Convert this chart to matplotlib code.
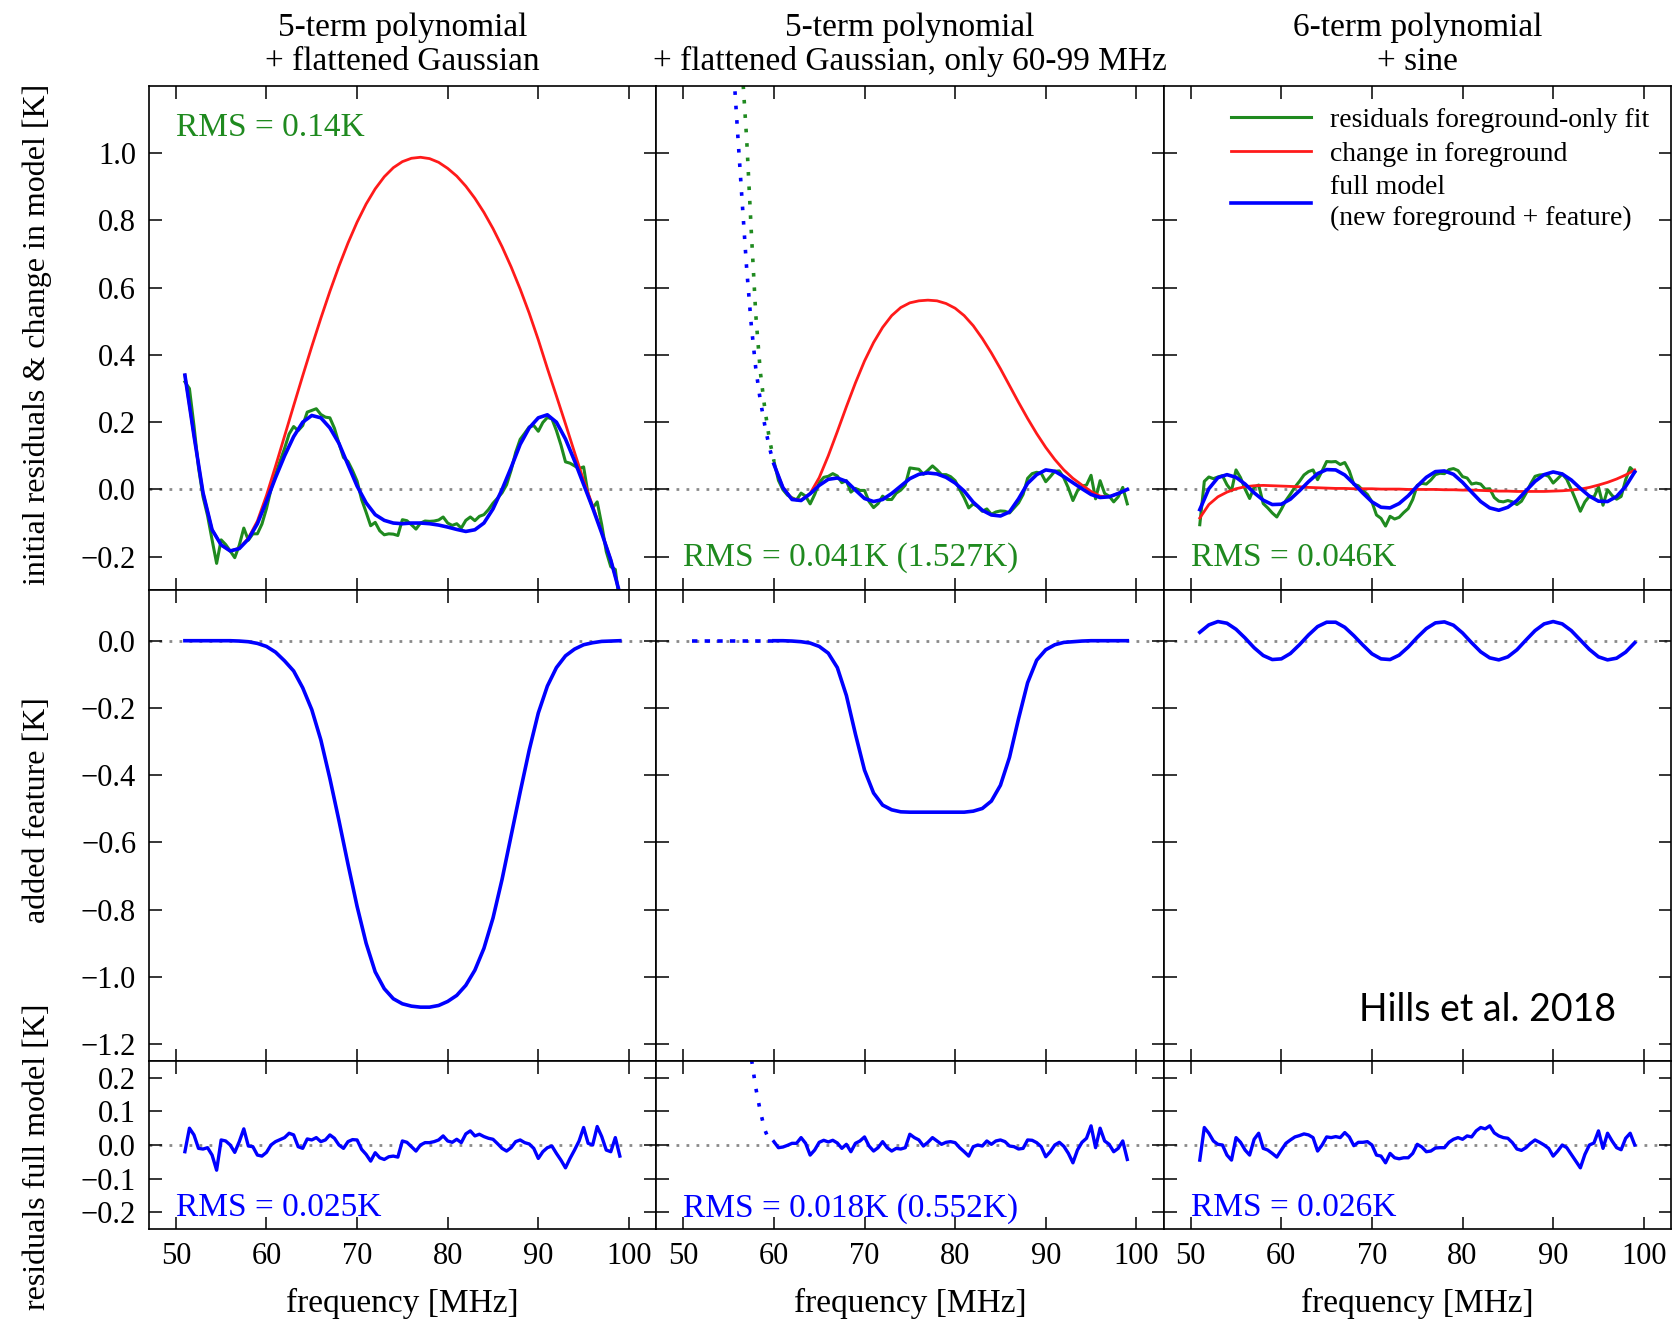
"""
Three fit scenarios: initial residuals / added feature / residuals of the full model.
"""

import numpy as np
import matplotlib

matplotlib.use("Agg")
import matplotlib.pyplot as plt

plt.rcParams["font.family"] = "serif"
plt.rcParams["font.serif"] = ["Liberation Serif", "DejaVu Serif"]

GREEN = "#1f8a1f"
RED = "#ff1a1a"
BLUE = "#0000ff"

# frequency grids [MHz]
FREQ = np.arange(51, 100, 1.0)          # smooth curves, 51..99
FREQ_FINE = np.arange(51, 99.5, 0.5)    # noisy curves, 51..99
FREQ_CUT = np.arange(60, 100, 1.0)      # 60-99 MHz fit
FREQ_CUT_FINE = np.arange(60, 99.5, 0.5)
FREQ_EXT = np.arange(55.5, 60.5, 0.5)   # extrapolation below 60 MHz
FREQ_EXT_FEAT = np.arange(51, 61, 1.0)
FREQ_EXT_RES = np.arange(57.0, 60.5, 0.5)

# ---- column 1: 5-term polynomial + flattened Gaussian ----
model_a = [0.34, 0.16, -0.01, -0.12, -0.165, -0.183, -0.176, -0.148, -0.102, -0.035,
           0.035, 0.10, 0.157, 0.20, 0.22, 0.213, 0.183, 0.137, 0.073, 0.01,
           -0.04, -0.075, -0.092, -0.10, -0.102, -0.10, -0.10, -0.102, -0.106, -0.112,
           -0.119, -0.125, -0.12, -0.10, -0.058, 0.0, 0.065, 0.134, 0.183, 0.213,
           0.222, 0.20, 0.15, 0.085, 0.015, -0.055, -0.13, -0.21, -0.31]
fg_change_a = [0.34, 0.16, -0.01, -0.12, -0.165, -0.183, -0.175, -0.145, -0.094, -0.018,
               0.069, 0.159, 0.249, 0.338, 0.425, 0.509, 0.589, 0.664, 0.733, 0.795,
               0.849, 0.894, 0.93, 0.957, 0.975, 0.985, 0.988, 0.984, 0.973, 0.955,
               0.932, 0.902, 0.866, 0.824, 0.776, 0.722, 0.662, 0.596, 0.524, 0.445,
               0.36, 0.278, 0.195, 0.11, 0.027, -0.049, -0.128, -0.209, -0.31]
feature_a = [0, 0, 0, 0, 0, 0, -0.001, -0.003, -0.008, -0.017,
             -0.034, -0.06, -0.09, -0.14, -0.205, -0.295, -0.41, -0.535, -0.665, -0.79,
             -0.90, -0.985, -1.035, -1.065, -1.08, -1.087, -1.09, -1.09, -1.085, -1.073,
             -1.055, -1.025, -0.98, -0.915, -0.825, -0.71, -0.58, -0.45, -0.325, -0.215,
             -0.135, -0.08, -0.045, -0.025, -0.012, -0.006, -0.002, -0.001, 0.0]
resid_fg_a = [0.32, 0.30, 0.19, 0.065, -0.022, -0.078, -0.15, -0.22, -0.15, -0.164,
              -0.183, -0.203, -0.166, -0.115, -0.151, -0.132, -0.132, -0.103, -0.057, 0.0,
              0.045, 0.084, 0.122, 0.165, 0.187, 0.175, 0.19, 0.23, 0.235, 0.24,
              0.223, 0.215, 0.213, 0.182, 0.137, 0.095, 0.083, 0.056, 0.025, -0.03,
              -0.068, -0.108, -0.098, -0.123, -0.135, -0.132, -0.133, -0.137, -0.09, -0.093,
              -0.105, -0.118, -0.10, -0.094, -0.095, -0.094, -0.091, -0.082, -0.10, -0.107,
              -0.102, -0.115, -0.092, -0.082, -0.093, -0.08, -0.075, -0.06, -0.041, -0.026,
              -0.01, 0.014, 0.057, 0.11, 0.149, 0.167, 0.186, 0.19, 0.173, 0.199,
              0.214, 0.21, 0.175, 0.132, 0.082, 0.078, 0.07, 0.062, 0.067, -0.015,
              -0.055, -0.037, -0.105, -0.185, -0.23, -0.238, -0.343]
resid_full_a = [-0.02, 0.05, 0.03, -0.01, -0.012, -0.008, -0.03, -0.075, 0.015, 0.012,
                0.0, -0.022, 0.01, 0.048, -0.003, -0.005, -0.03, -0.033, -0.022, 0.0,
                0.01, 0.016, 0.022, 0.035, 0.03, -0.005, -0.01, 0.018, 0.015, 0.022,
                0.01, 0.015, 0.03, 0.02, 0.0, -0.01, 0.01, 0.016, 0.015, -0.013,
                -0.028, -0.048, -0.023, -0.038, -0.043, -0.035, -0.033, -0.036, 0.012, 0.008,
                -0.005, -0.018, 0.0, 0.007, 0.007, 0.01, 0.015, 0.027, 0.012, 0.008,
                0.017, 0.007, 0.033, 0.042, 0.027, 0.032, 0.025, 0.02, 0.017, 0.004,
                -0.01, -0.018, -0.008, 0.01, 0.015, 0.007, 0.003, -0.01, -0.04, -0.02,
                -0.008, -0.003, -0.025, -0.045, -0.068, -0.04, -0.015, 0.012, 0.052, 0.005,
                0.0, 0.055, 0.025, -0.015, -0.02, 0.022, -0.033]

# ---- column 2: same model, fitted on 60-99 MHz only ----
model_b = [0.075, 0.005, -0.03, -0.033, -0.013, 0.012, 0.03, 0.034, 0.024, -0.002,
           -0.027, -0.036, -0.03, -0.012, 0.01, 0.032, 0.045, 0.049, 0.046, 0.036,
           0.019, -0.005, -0.038, -0.062, -0.076, -0.079, -0.067, -0.028, 0.018, 0.044,
           0.058, 0.054, 0.038, 0.02, 0.002, -0.015, -0.024, -0.022, -0.012, 0.0]
fg_change_b = [0.075, 0.006, -0.028, -0.032, -0.012, 0.035, 0.1, 0.172, 0.246, 0.317,
               0.382, 0.437, 0.482, 0.517, 0.541, 0.555, 0.561, 0.563, 0.561, 0.553,
               0.539, 0.517, 0.487, 0.449, 0.406, 0.359, 0.309, 0.259, 0.211, 0.166,
               0.125, 0.089, 0.058, 0.033, 0.013, -0.006, -0.02, -0.022, -0.012, 0.0]
feature_b = [0, 0, -0.001, -0.003, -0.007, -0.017, -0.037, -0.08, -0.163, -0.278,
             -0.385, -0.453, -0.489, -0.503, -0.509, -0.51, -0.51, -0.51, -0.51, -0.51,
             -0.51, -0.51, -0.507, -0.499, -0.477, -0.43, -0.347, -0.232, -0.125, -0.058,
             -0.027, -0.012, -0.005, -0.003, -0.001, 0, 0, 0, 0, 0]
resid_fg_b = [0.085, 0.027, -0.001, -0.017, -0.025, -0.031, -0.011, -0.02, -0.043, -0.015,
              0.02, 0.036, 0.039, 0.047, 0.04, 0.02, 0.026, -0.008, 0.003, -0.003,
              -0.003, -0.036, -0.054, -0.042, -0.02, -0.03, -0.03, -0.011, -0.002, 0.013,
              0.064, 0.062, 0.06, 0.045, 0.057, 0.07, 0.058, 0.044, 0.044, 0.038,
              0.026, 0.0, -0.025, -0.055, -0.043, -0.051, -0.065, -0.058, -0.074, -0.067,
              -0.064, -0.065, -0.07, -0.055, -0.04, -0.015, 0.033, 0.047, 0.051, 0.048,
              0.023, 0.038, 0.054, 0.055, 0.034, 0.004, -0.033, -0.004, 0.01, 0.013,
              0.042, -0.028, 0.026, -0.012, -0.02, -0.037, -0.022, 0.006, -0.043]
resid_full_b = [0.01, -0.008, -0.006, -0.001, 0.005, 0.005, 0.022, 0.005, -0.03, -0.015,
                0.008, 0.014, 0.009, 0.014, 0.006, -0.01, 0.002, -0.02, 0.005, 0.012,
                0.024, -0.003, -0.018, -0.008, 0.01, -0.008, -0.018, -0.01, -0.012, -0.008,
                0.032, 0.022, 0.015, -0.003, 0.008, 0.022, 0.012, 0.002, 0.008, 0.01,
                0.007, -0.008, -0.02, -0.033, -0.005, 0.0, -0.003, 0.012, 0.002, 0.012,
                0.015, 0.01, -0.003, -0.005, -0.012, -0.01, 0.015, 0.014, 0.007, -0.005,
                -0.035, -0.02, 0.0, 0.008, -0.004, -0.025, -0.053, -0.015, 0.008, 0.02,
                0.057, -0.008, 0.05, 0.012, 0.002, -0.02, -0.01, 0.012, -0.043]
# extrapolation of the 60-99 MHz fit down to lower frequencies (dotted)
model_ext_b = [1.27, 1.06, 0.855, 0.655, 0.49, 0.36, 0.265, 0.19, 0.125, 0.075]
resid_fg_ext_b = [1.70, 1.47, 1.25, 1.04, 0.77, 0.52, 0.35, 0.24, 0.15, 0.085]
feature_ext_b = [0, 0, 0, 0, 0, 0, 0, 0, 0, 0]
resid_full_ext_b = [0.38, 0.26, 0.17, 0.10, 0.045, 0.012, 0.01]

# ---- column 3: 6-term polynomial + sine ----
model_c = [-0.06, 0.002, 0.035, 0.044, 0.036, 0.016, -0.01, -0.032, -0.045, -0.044,
           -0.029, -0.004, 0.023, 0.047, 0.059, 0.058, 0.043, 0.017, -0.011, -0.037,
           -0.053, -0.055, -0.042, -0.019, 0.01, 0.036, 0.053, 0.055, 0.045, 0.021,
           -0.008, -0.036, -0.055, -0.062, -0.053, -0.033, -0.004, 0.024, 0.044, 0.052,
           0.046, 0.028, 0.003, -0.02, -0.035, -0.036, -0.021, 0.009, 0.052]
fg_change_c = [-0.085, -0.045, -0.022, -0.008, 0.002, 0.008, 0.011, 0.012, 0.011, 0.01,
               0.009, 0.008, 0.006, 0.005, 0.004, 0.003, 0.003, 0.002, 0.002, 0.002,
               0.001, 0.001, 0.001, 0.0, 0.0, 0.0, 0.0, -0.001, -0.001, -0.002,
               -0.002, -0.003, -0.004, -0.005, -0.005, -0.006, -0.006, -0.006, -0.006, -0.005,
               -0.004, -0.002, 0.001, 0.006, 0.013, 0.021, 0.031, 0.043, 0.058]
feature_c = [0.025, 0.047, 0.057, 0.052, 0.034, 0.008, -0.021, -0.044, -0.056, -0.054,
             -0.038, -0.012, 0.017, 0.042, 0.055, 0.055, 0.040, 0.015, -0.013, -0.039,
             -0.054, -0.056, -0.043, -0.019, 0.010, 0.036, 0.053, 0.056, 0.046, 0.023,
             -0.006, -0.033, -0.051, -0.057, -0.048, -0.027, 0.002, 0.030, 0.050, 0.057,
             0.050, 0.030, 0.002, -0.026, -0.048, -0.057, -0.052, -0.034, -0.006]
resid_fg_c = [-0.105, 0.024, 0.037, 0.032, 0.037, 0.041, 0.014, -0.004, 0.058, 0.035,
              0.001, -0.027, 0.007, 0.013, -0.042, -0.055, -0.07, -0.082, -0.059, -0.033,
              -0.014, 0.007, 0.024, 0.043, 0.053, 0.058, 0.029, 0.055, 0.083, 0.082,
              0.083, 0.074, 0.08, 0.055, 0.015, 0.011, -0.003, -0.015, -0.037, -0.076,
              -0.086, -0.109, -0.08, -0.088, -0.083, -0.069, -0.057, -0.03, 0.012, 0.018,
              0.016, 0.028, 0.044, 0.048, 0.047, 0.059, 0.062, 0.056, 0.038, 0.034,
              0.016, 0.019, 0.016, 0.001, 0.002, -0.024, -0.035, -0.037, -0.033, -0.037,
              -0.045, -0.035, -0.012, 0.016, 0.039, 0.043, 0.044, 0.039, 0.019, 0.032,
              0.046, 0.03, 0.0, -0.032, -0.065, -0.037, -0.02, -0.023, 0.007, -0.047,
              -0.001, -0.018, -0.029, -0.021, 0.029, 0.065, 0.052]
resid_full_c = [-0.045, 0.052, 0.035, 0.012, 0.002, 0.0, -0.03, -0.045, 0.022, 0.008,
                -0.015, -0.03, 0.017, 0.035, -0.01, -0.015, -0.025, -0.036, -0.015, 0.005,
                0.015, 0.024, 0.028, 0.033, 0.03, 0.022, -0.018, 0.0, 0.024, 0.022,
                0.025, 0.022, 0.037, 0.024, -0.002, 0.008, 0.008, 0.01, 0.0, -0.03,
                -0.033, -0.053, -0.025, -0.038, -0.041, -0.038, -0.038, -0.025, 0.002, -0.006,
                -0.02, -0.018, -0.009, -0.008, -0.008, 0.008, 0.017, 0.022, 0.017, 0.027,
                0.024, 0.042, 0.052, 0.048, 0.057, 0.036, 0.027, 0.022, 0.02, 0.007,
                -0.012, -0.016, -0.008, 0.005, 0.015, 0.008, 0.0, -0.01, -0.033, -0.018,
                0.0, -0.008, -0.028, -0.048, -0.068, -0.028, 0.0, 0.006, 0.042, -0.01,
                0.035, 0.012, -0.008, -0.014, 0.02, 0.035, 0.0]

TITLES = ["5-term polynomial\n+ flattened Gaussian",
          "5-term polynomial\n+ flattened Gaussian, only 60-99 MHz",
          "6-term polynomial\n+ sine"]
RMS_TOP = ["RMS = 0.14K", "RMS = 0.041K (1.527K)", "RMS = 0.046K"]
RMS_BOTTOM = ["RMS = 0.025K", "RMS = 0.018K (0.552K)", "RMS = 0.026K"]

FS = 24        # titles, x labels, annotations
FS_YLAB = 23
FS_TICK = 22
DOTS = (1, 3)


def zero_line(ax):
    ax.axhline(0, color="#8a8a8a", lw=2.0, ls=(0, (1, 2.6)), zorder=0)


def style(ax, first_col):
    ax.set_xlim(47, 103)
    ax.set_xticks([50, 60, 70, 80, 90, 100])
    ax.tick_params(direction="in", top=True, right=True, length=9, width=1.1,
                   labelsize=FS_TICK, pad=9)
    for sp in ax.spines.values():
        sp.set_linewidth(1.2)
    if not first_col:
        ax.tick_params(labelleft=False)


fig = plt.figure(figsize=(16.76, 13.19), dpi=100)
gs = fig.add_gridspec(3, 3, height_ratios=[1.5, 1.4, 0.5], left=0.0887, right=0.997,
                      top=0.9348, bottom=0.0682, hspace=0, wspace=0)
axes = [[fig.add_subplot(gs[r, c]) for c in range(3)] for r in range(3)]

columns = [
    (FREQ, FREQ_FINE, model_a, fg_change_a, feature_a, resid_fg_a, resid_full_a),
    (FREQ_CUT, FREQ_CUT_FINE, model_b, fg_change_b, feature_b, resid_fg_b, resid_full_b),
    (FREQ, FREQ_FINE, model_c, fg_change_c, feature_c, resid_fg_c, resid_full_c),
]

for c, (fx, fxf, model, fg, feat, rfg, rfull) in enumerate(columns):
    top, mid, bot = axes[0][c], axes[1][c], axes[2][c]

    zero_line(top)
    top.plot(fxf, rfg, color=GREEN, lw=2.2, label="residuals foreground-only fit")
    top.plot(fx, fg, color=RED, lw=2.0, label="change in foreground")
    top.plot(fx, model, color=BLUE, lw=2.6,
             label="full model\n(new foreground + feature)")
    top.set_ylim(-0.3, 1.2)
    top.set_yticks([-0.2, 0.0, 0.2, 0.4, 0.6, 0.8, 1.0])
    top.set_title(TITLES[c], fontsize=FS, linespacing=1.13, pad=11.5)

    zero_line(mid)
    mid.plot(fx, feat, color=BLUE, lw=2.6)
    mid.set_ylim(-1.25, 0.15)
    mid.set_yticks([-1.2, -1.0, -0.8, -0.6, -0.4, -0.2, 0.0])

    zero_line(bot)
    bot.plot(fxf, rfull, color=BLUE, lw=2.4)
    bot.set_ylim(-0.25, 0.25)
    bot.set_yticks([-0.2, -0.1, 0.0, 0.1, 0.2])

    for ax in (top, mid, bot):
        style(ax, c == 0)
    top.tick_params(labelbottom=False)
    mid.tick_params(labelbottom=False)

    top.text(0.054, 0.918 if c == 0 else 0.064, RMS_TOP[c], color=GREEN,
             fontsize=FS, transform=top.transAxes, va="center", ha="left")
    bot.text(0.054, 0.124, RMS_BOTTOM[c], color=BLUE, fontsize=FS,
             transform=bot.transAxes, va="center", ha="left")
    bot.set_xlabel("frequency [MHz]", fontsize=FS)
    bot.xaxis.set_label_coords(0.5, -0.35)

# dotted extrapolation of the 60-99 MHz fit
axes[0][1].plot(FREQ_EXT, resid_fg_ext_b, color=GREEN, lw=2.6, ls=(0, DOTS))
axes[0][1].plot(FREQ_EXT, model_ext_b, color=BLUE, lw=2.6, ls=(0, DOTS))
axes[1][1].plot(FREQ_EXT_FEAT, feature_ext_b, color=BLUE, lw=2.6, ls=(0, (1.5, 2)))
axes[2][1].plot(FREQ_EXT_RES, resid_full_ext_b, color=BLUE, lw=2.6, ls=(0, DOTS))

leg = axes[0][2].legend(loc="upper right", bbox_to_anchor=(0.99, 0.99), frameon=False,
                        fontsize=20, handlelength=2.85, handletextpad=0.7,
                        labelspacing=0.3, borderaxespad=0.2)
for t in leg.get_texts():
    t.set_linespacing(1.3)

axes[0][0].set_ylabel("initial residuals & change in model [K]", fontsize=FS_YLAB)
axes[1][0].set_ylabel("added feature [K]", fontsize=FS_YLAB)
axes[2][0].set_ylabel("residuals full model [K]", fontsize=FS_YLAB)
axes[0][0].yaxis.set_label_coords(-0.19, 0.507)
axes[1][0].yaxis.set_label_coords(-0.19, 0.533)
axes[2][0].yaxis.set_label_coords(-0.19, 0.43)

axes[1][2].text(0.8925, 0.108, "Hills et al. 2018", transform=axes[1][2].transAxes,
                fontsize=27, family=["Lato", "DejaVu Sans"], ha="right", va="center")

fig.savefig("out.png", dpi=100)
